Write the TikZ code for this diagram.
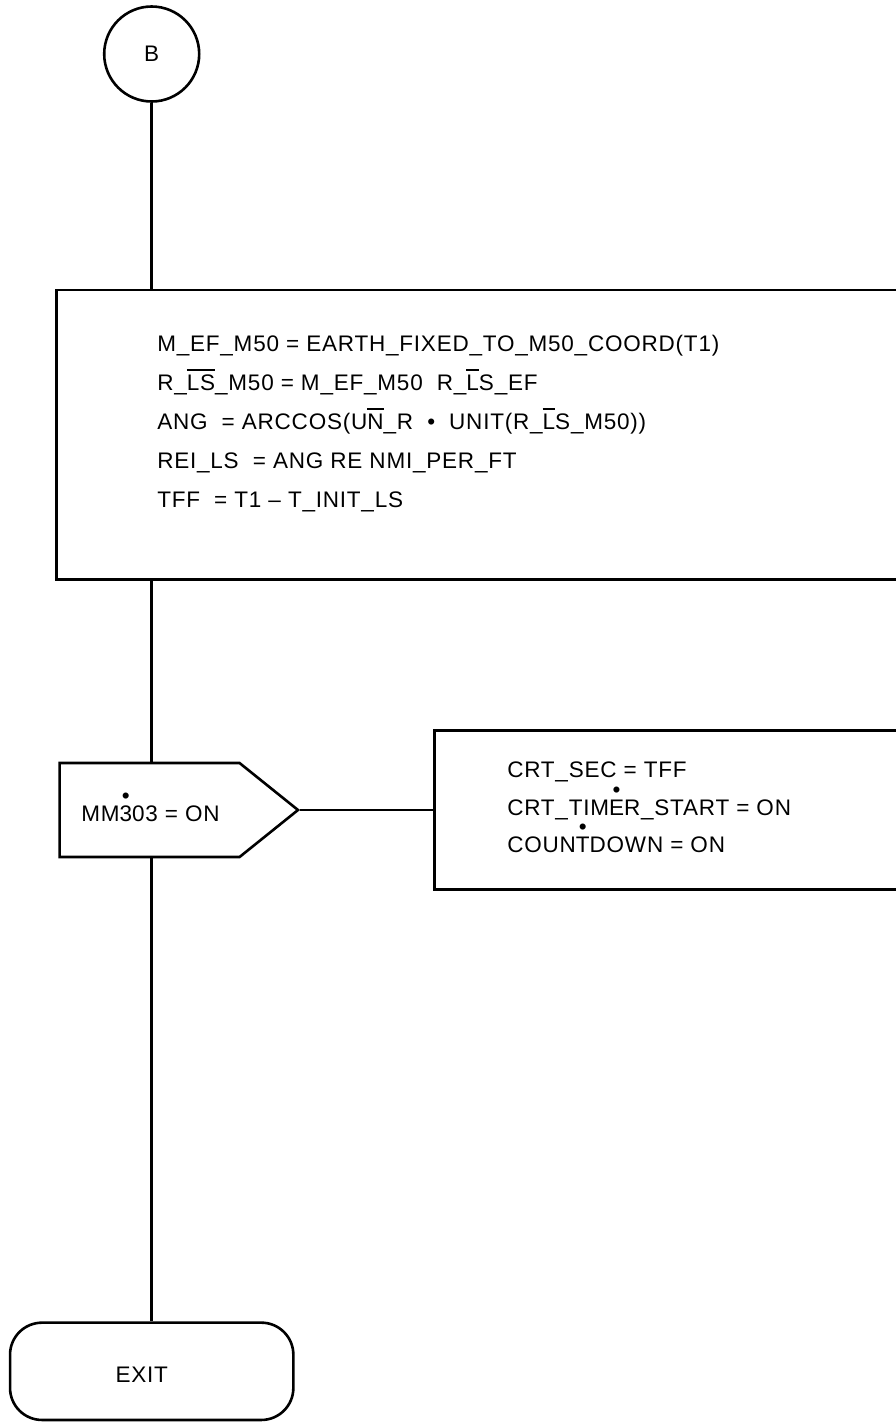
\documentclass[tikz,border=0pt]{standalone}
\usepackage{fontspec}
\setmainfont{Liberation Sans}[LetterSpace=3.5]
\usetikzlibrary{shapes.symbols}
% bar over letters, dot over a letter
\newcommand\ovl[1]{\setbox0\hbox{#1}\rlap{\rule[0.86em]{\wd0}{0.11em}}\box0}
\newcommand\dotabove[1]{\leavevmode\ooalign{#1\cr\hidewidth\raisebox{0.82em}{•}\hidewidth\cr}}
\tikzset{
  connector/.style={draw, circle, minimum size=95, inner sep=0pt},
  procbox/.style={draw, rectangle, inner sep=0pt, anchor=north west},
  txt/.style={align=left, inner sep=0pt},
  terminal/.style={draw, rectangle, rounded corners=32, minimum width=283.3, minimum height=97.3}
}
\begin{document}
\begin{tikzpicture}[x=1pt,y=-1pt,line width=2.6pt,
  every node/.style={font=\fontsize{22.5}{38.9}\selectfont}]
\useasboundingbox (0,0) rectangle (896,1422);
\clip (0,0) rectangle (896,1422);
\node[connector] (B) at (151.7,54) {B};
\node[procbox, minimum width=900, minimum height=289.5] (calc) at (55,288.5) {};
\node[txt, anchor=west] (calctxt) at (156,423.7) {M\_EF\_M50 = EARTH\_FIXED\_TO\_M50\_COORD(T1)\\
R\_\ovl{LS}\_M50 = M\_EF\_M50\ \ R\_\ovl{L}S\_EF\\
ANG\ \ = ARCCOS(U\ovl{N}\_R\ \ •\ \ UNIT(R\_\ovl{L}S\_M50))\\
REI\_LS\ \ = ANG RE NMI\_PER\_FT\\
TFF\ \ = T1 – T\_INIT\_LS};
\node[signal, signal to=east, signal pointer angle=77.6, draw, inner sep=0pt,
  minimum width=238.4, minimum height=94, anchor=west] (dec) at (58.3,810) {};
\node[txt, anchor=base west] (dectxt) at (80,821.7) {MM\dotabove{3}03 = ON};
\node[procbox, minimum width=500, minimum height=159] (act) at (433.3,729.3) {};
\node[txt, anchor=west, font=\fontsize{22.5}{37.5}\selectfont] (acttxt) at (506,807.7) {CRT\_SEC = TFF\\
CRT\_TIM\dotabove{E}R\_START = ON\\
COUN\dotabove{T}DOWN = ON};
\node[terminal] (exit) at (151.7,1371.3) {};
\node[txt] (exittxt) at (141.7,1375) {EXIT};
\draw (B) -- (B |- calc.north);
\draw (B |- calc.south) -- (B |- dec.north);
\draw (dec.east) -- (dec.east -| act.west);
\draw (B |- dec.south) -- (exit.north);
\end{tikzpicture}
\end{document}
